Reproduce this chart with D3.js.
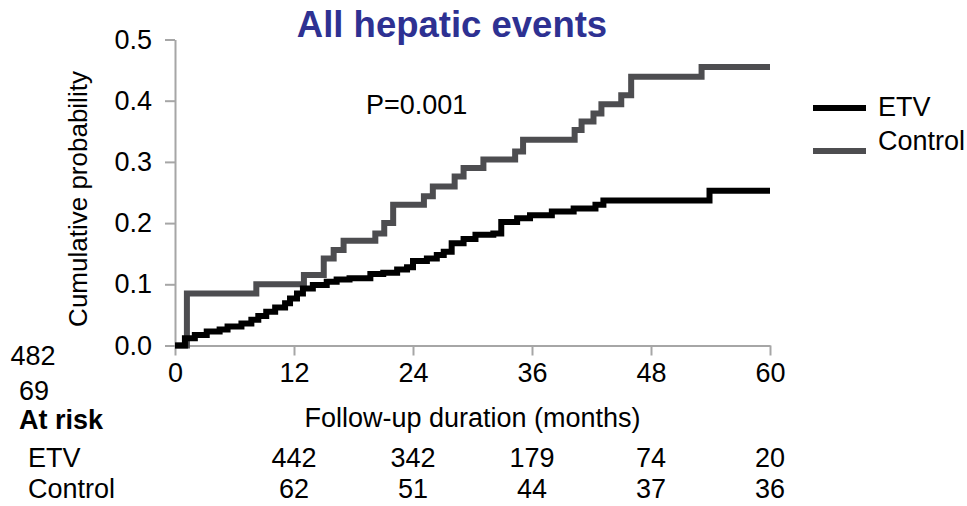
<!DOCTYPE html>
<html>
<head>
<meta charset="utf-8">
<script src="https://cdn.jsdelivr.net/npm/d3@7"></script>
<style>
  body { margin: 0; background: #fff; }
  svg text { font-family: "Liberation Sans", Arial, sans-serif; fill: #000; }
</style>
</head>
<body>
<div id="chart"></div>
<script>
const FRAME_WIDTH = 967;
const FRAME_HEIGHT = 506;
const MARGINS = {left: 175, right: 197, top: 39.5, bottom: 160.5};

const VIS_WIDTH = FRAME_WIDTH - MARGINS.left - MARGINS.right;
const VIS_HEIGHT = FRAME_HEIGHT - MARGINS.top - MARGINS.bottom;

const FONT = "27px";

// step times (months) and cumulative probability after each step
const etvTimes = [0, 1.0, 2.0, 3.2, 4.5, 5.3, 6.7, 7.7, 8.4, 9.2, 10.1, 11.1, 11.6, 12.3, 12.9, 13.9,
                  15.3, 16.3, 17.6, 19.7, 21.0, 22.4, 23.4, 24.0, 25.4, 26.4, 27.1, 27.9, 29.1, 30.3,
                  32.1, 32.9, 34.5, 35.8, 38.0, 40.2, 42.4, 43.2, 53.9, 60];
const etvProbs = [0, 0.012, 0.017, 0.023, 0.026, 0.031, 0.036, 0.042, 0.048, 0.055, 0.062, 0.069, 0.077, 0.085, 0.093, 0.099,
                  0.104, 0.108, 0.110, 0.117, 0.119, 0.124, 0.128, 0.138, 0.142, 0.148, 0.153, 0.167, 0.174, 0.181,
                  0.183, 0.202, 0.208, 0.213, 0.219, 0.224, 0.230, 0.237, 0.253, 0.253];

const ctrlTimes = [0, 1.2, 8.2, 13.0, 15.0, 16.0, 17.0, 20.2, 21.1, 22.0, 25.1, 26.0, 28.2, 29.1, 31.1,
                   34.3, 35.1, 40.3, 41.0, 42.2, 43.0, 45.0, 46.0, 53.1, 60];
const ctrlProbs = [0, 0.085, 0.100, 0.115, 0.142, 0.156, 0.171, 0.183, 0.200, 0.230, 0.244, 0.260, 0.276, 0.290, 0.304,
                   0.317, 0.336, 0.352, 0.366, 0.379, 0.394, 0.409, 0.439, 0.455, 0.455];

const xTicks = [0, 12, 24, 36, 48, 60];
const yTicks = [0, 0.1, 0.2, 0.3, 0.4, 0.5];

const riskTimes = [12, 24, 36, 48, 60];
const riskETV = [442, 342, 179, 74, 20];
const riskControl = [62, 51, 44, 37, 36];
const riskStart = [482, 69];

const seriesNames = ["ETV", "Control"];
const seriesColors = ["#000000", "#4d4d50"];

const FRAME = d3.select("#chart")
                .append("svg")
                  .attr("width", FRAME_WIDTH)
                  .attr("height", FRAME_HEIGHT);

const X_SCALE = d3.scaleLinear().domain([0, 60]).range([0, VIS_WIDTH]);
const Y_SCALE = d3.scaleLinear().domain([0, 0.5]).range([VIS_HEIGHT, 0]);

const G = FRAME.append("g")
               .attr("transform", "translate(" + MARGINS.left + "," + MARGINS.top + ")");

// axes
const xAxis = G.append("g")
               .attr("transform", "translate(0," + VIS_HEIGHT + ")")
               .call(d3.axisBottom(X_SCALE).tickValues(xTicks).tickSize(10).tickSizeOuter(0).tickPadding(7));

const yAxis = G.append("g")
               .call(d3.axisLeft(Y_SCALE).tickValues(yTicks).tickSize(10).tickSizeOuter(0).tickPadding(13)
                     .tickFormat(d3.format(".1f")));

[xAxis, yAxis].forEach((ax) => {
  ax.select(".domain").attr("stroke", "#a6a6a6").attr("stroke-width", 2);
  ax.selectAll(".tick line").attr("stroke", "#a6a6a6").attr("stroke-width", 2);
  ax.selectAll(".tick text")
    .attr("font-size", FONT)
    .attr("font-family", "Liberation Sans, Arial, sans-serif")
    .attr("fill", "#000");
});

// curves
const line = d3.line()
               .x((d) => X_SCALE(d[0]))
               .y((d) => Y_SCALE(d[1]))
               .curve(d3.curveStepAfter);

const ctrlData = ctrlTimes.map((t, i) => [t, ctrlProbs[i]]);
const etvData = etvTimes.map((t, i) => [t, etvProbs[i]]);

G.append("path")
 .datum(ctrlData)
 .attr("d", line)
 .attr("fill", "none")
 .attr("stroke", seriesColors[1])
 .attr("stroke-width", 6);

G.append("path")
 .datum(etvData)
 .attr("d", line)
 .attr("fill", "none")
 .attr("stroke", seriesColors[0])
 .attr("stroke-width", 6);

// title
FRAME.append("text")
     .attr("x", 452)
     .attr("y", 37)
     .attr("text-anchor", "middle")
     .attr("font-size", "36.5px")
     .attr("font-weight", "bold")
     .style("fill", "#2e3192")
     .text("All hepatic events");

FRAME.append("text")
     .attr("x", 366)
     .attr("y", 114)
     .attr("font-size", FONT)
     .text("P=0.001");

// axis titles
FRAME.append("text")
     .attr("transform", "translate(87," + 199 + ") rotate(-90)")
     .attr("text-anchor", "middle")
     .attr("font-size", "26px")
     .text("Cumulative probability");

FRAME.append("text")
     .attr("x", MARGINS.left + VIS_WIDTH / 2)
     .attr("y", 427)
     .attr("text-anchor", "middle")
     .attr("font-size", FONT)
     .text("Follow-up duration (months)");

// legend
const legendY = [108, 151];
const legendTextY = [116, 150];
seriesNames.forEach((name, i) => {
  FRAME.append("line")
       .attr("x1", 813).attr("x2", 866)
       .attr("y1", legendY[i]).attr("y2", legendY[i])
       .attr("stroke", seriesColors[i])
       .attr("stroke-width", 6);
  FRAME.append("text")
       .attr("x", 878)
       .attr("y", legendTextY[i])
       .attr("font-size", FONT)
       .text(name);
});

// at risk table
FRAME.append("text").attr("x", 33).attr("y", 365).attr("text-anchor", "middle")
     .attr("font-size", FONT).text(riskStart[0]);
FRAME.append("text").attr("x", 34).attr("y", 400).attr("text-anchor", "middle")
     .attr("font-size", FONT).text(riskStart[1]);

FRAME.append("text").attr("x", 19).attr("y", 429)
     .attr("font-size", FONT).attr("font-weight", "bold").text("At risk");
FRAME.append("text").attr("x", 28).attr("y", 467)
     .attr("font-size", FONT).text("ETV");
FRAME.append("text").attr("x", 28).attr("y", 498)
     .attr("font-size", FONT).text("Control");

FRAME.selectAll(".riskEtv")
     .data(riskTimes)
     .enter()
     .append("text")
       .attr("x", (d) => X_SCALE(d) + MARGINS.left)
       .attr("y", 467)
       .attr("text-anchor", "middle")
       .attr("font-size", FONT)
       .text((d, i) => riskETV[i]);

FRAME.selectAll(".riskCtrl")
     .data(riskTimes)
     .enter()
     .append("text")
       .attr("x", (d) => X_SCALE(d) + MARGINS.left)
       .attr("y", 498)
       .attr("text-anchor", "middle")
       .attr("font-size", FONT)
       .text((d, i) => riskControl[i]);
</script>
</body>
</html>
